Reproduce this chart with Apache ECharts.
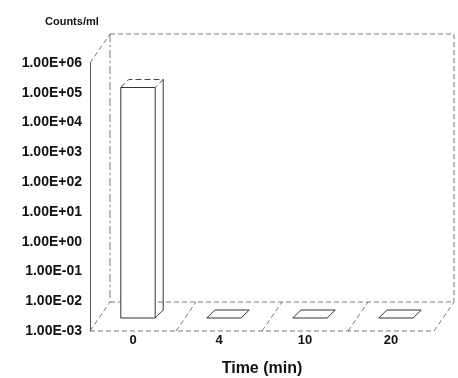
<!DOCTYPE html>
<html>
<head>
<meta charset="utf-8">
<script src="https://cdn.jsdelivr.net/npm/echarts@6/dist/echarts.min.js"></script>
<style>
html, body { margin: 0; padding: 0; background: #fff; }
#chart { width: 458px; height: 378px; }
</style>
</head>
<body>
<div id="chart"></div>
<script>
// data
var times = ['0', '4', '10', '20'];
var counts = [5.5e4, 0.001, 0.001, 0.001];
var yMin = 0.001;
var yMax = 1e6;

// fake 3d depth of the box and of the bars
var DX = 20, DY = -29;
var BDX = 8, BDY = -8;
var SHIFT_X = 5, SHIFT_Y = -13;

var font = '"Liberation Sans", Arial, sans-serif';

function fmt_exp(v) {
    var e = Math.round(Math.log10(v));
    var a = Math.abs(e);
    return '1.00E' + (e < 0 ? '-' : '+') + (a < 10 ? '0' : '') + a;
}

function line(points, style) {
    return {
        type: 'polyline',
        shape: { points: points },
        style: Object.assign({ stroke: '#555', lineWidth: 1, fill: null }, style || {}),
        silent: true
    };
}

// box walls + floor
var render_frame = function(params, api) {
    var band = api.size([1, 0])[0];
    var top = api.coord([0, yMax]);
    var bot = api.coord([times.length - 1, yMin]);
    var x0 = top[0] - band / 2;
    var x1 = bot[0] + band / 2;
    var yt = top[1], yb = bot[1];
    var dash = { lineDash: [5, 3], stroke: '#777' };
    var kids = [
        line([[x0, yt], [x0 + DX, yt + DY]], dash),
        line([[x0 + DX, yt + DY], [x1 + DX, yt + DY]], dash),
        line([[x1 + DX, yt + DY], [x1 + DX, yb + DY]], dash),
        line([[x0 + DX, yt + DY], [x0 + DX, yb + DY]], { lineDash: [8, 3, 2, 3], stroke: '#777' }),
        line([[x0 + DX, yb + DY], [x1 + DX, yb + DY]], dash),
        line([[x0, yb], [x1, yb]], dash)
    ];
    for (var i = 0; i <= times.length; i++) {
        var xb = x0 + band * i;
        kids.push(line([[xb, yb], [xb + DX, yb + DY]], dash));
    }
    return { type: 'group', children: kids };
};

// one box per category
var render_bar = function(params, api) {
    var i = api.value(0);
    var base = api.coord([i, yMin]);
    var top = api.coord([i, api.value(1)]);
    var w = api.size([1, 0])[0] * 0.4;
    var x0 = base[0] - w / 2 + SHIFT_X;
    var x1 = x0 + w;
    var yb = base[1] + SHIFT_Y;
    var yt = top[1] + SHIFT_Y;
    var st = { stroke: '#333', lineWidth: 1 };
    var kids = [];
    if (yb - yt > 1) {
        kids.push({
            type: 'rect',
            shape: { x: x0, y: yt, width: w, height: yb - yt },
            style: { fill: '#fff', stroke: '#333', lineWidth: 1 }
        });
        kids.push(line([[x1, yb], [x1 + BDX, yb + BDY], [x1 + BDX, yt + BDY]], st));
        kids.push(line([[x0, yt], [x0 + BDX, yt + BDY], [x1 + BDX, yt + BDY], [x1, yt]],
            { stroke: '#444', lineDash: [6, 3] }));
    } else {
        kids.push(line([[x0, yb], [x0 + BDX, yb + BDY], [x1 + BDX, yb + BDY], [x1, yb], [x0, yb]], st));
    }
    return { type: 'group', children: kids };
};

var chart = echarts.init(document.getElementById('chart'));
chart.setOption({
    animation: false,
    title: {
        text: 'Counts/ml',
        left: 40,
        top: 11,
        textStyle: { fontFamily: font, fontSize: 11, fontWeight: 'bold', color: '#111' }
    },
    grid: { left: 90, right: 24, top: 63, bottom: 47, outerBoundsMode: 'none' },
    xAxis: {
        type: 'category',
        data: times,
        name: 'Time (min)',
        nameLocation: 'middle',
        nameGap: 30,
        nameTextStyle: { fontFamily: font, fontSize: 16, fontWeight: 'bold', color: '#111' },
        axisLine: { show: false },
        axisTick: { show: false },
        axisLabel: { fontFamily: font, fontSize: 13, fontWeight: 'bold', color: '#111', margin: 3 },
        splitLine: { show: false }
    },
    yAxis: {
        type: 'log',
        logBase: 10,
        min: yMin,
        max: yMax,
        splitNumber: 9,
        axisLine: { show: true, lineStyle: { color: '#555', width: 1 } },
        axisTick: { show: false },
        splitLine: { show: false },
        axisLabel: {
            fontFamily: font, fontSize: 14, fontWeight: 'bold', color: '#111', margin: 8,
            formatter: fmt_exp
        }
    },
    series: [{
        type: 'custom',
        data: [[0, yMax]],
        renderItem: render_frame,
        silent: true,
        z: 1
    }, {
        type: 'custom',
        data: counts.map(function(v, i) { return [i, v]; }),
        encode: { x: 0, y: 1 },
        renderItem: render_bar,
        z: 2
    }]
});
</script>
</body>
</html>
